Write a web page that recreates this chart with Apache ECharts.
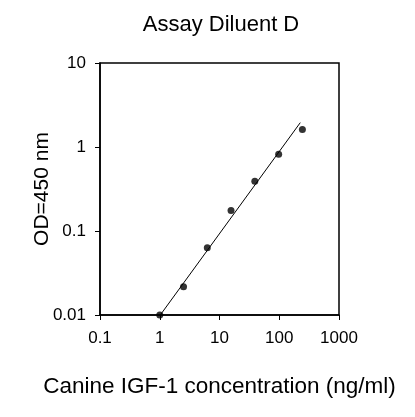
<!DOCTYPE html>
<html>
<head>
<meta charset="utf-8">
<script src="https://cdn.jsdelivr.net/npm/echarts@6/dist/echarts.min.js"></script>
<style>
  html, body { margin: 0; padding: 0; background: #fff; }
  #chart { width: 415px; height: 417px; }
</style>
</head>
<body>
<div id="chart"></div>
<script>
// standards (ng/ml vs OD450)
var concX = [1, 2.5, 6.25, 15.6, 39, 97.7, 244];
var odY = [0.01, 0.0217, 0.063, 0.175, 0.39, 0.82, 1.62];
// fitted line end points
var fitX = [1, 225];
var fitY = [0.0098, 1.95];

var chart = echarts.init(document.getElementById('chart'));
var font = '"Liberation Sans", Arial, sans-serif';

var option = {
  animation: false,
  backgroundColor: '#fff',
  title: {
    text: 'Assay Diluent D',
    left: 216,
    textAlign: 'center',
    top: 9,
    textStyle: { fontFamily: font, fontSize: 22, fontWeight: 'normal', color: '#000' }
  },
  grid: {
    left: 100, right: 76, top: 63, bottom: 102,
    show: true, borderColor: '#000', borderWidth: 1.5, backgroundColor: 'transparent'
  },
  xAxis: {
    type: 'log', logBase: 10, min: 0.1, max: 1000,
    name: 'Canine IGF-1 concentration (ng/ml)',
    nameLocation: 'middle', nameGap: 60,
    nameMoveOverlap: false,
    nameTextStyle: { fontFamily: font, fontSize: 22.5, color: '#000' },
    axisLine: { lineStyle: { color: '#000', width: 1.5 } },
    axisTick: { length: 5, lineStyle: { color: '#000' } },
    splitLine: { show: false },
    axisLabel: { fontFamily: font, fontSize: 17, color: '#000', margin: 15,
      formatter: function (v) { return String(+v.toPrecision(6)); } }
  },
  yAxis: {
    type: 'log', logBase: 10, min: 0.01, max: 10,
    name: 'OD=450 nm',
    nameLocation: 'middle', nameGap: 47,
    nameMoveOverlap: false,
    nameTextStyle: { fontFamily: font, fontSize: 21, color: '#000' },
    axisLine: { lineStyle: { color: '#000', width: 1.5 } },
    axisTick: { length: 5, lineStyle: { color: '#000' } },
    splitLine: { show: false },
    axisLabel: { fontFamily: font, fontSize: 17, color: '#000', margin: 14,
      formatter: function (v) { return String(+v.toPrecision(6)); } }
  },
  series: [
    {
      type: 'line',
      data: fitX.map(function (x, i) { return [x, fitY[i]]; }),
      symbol: 'none',
      lineStyle: { color: '#000', width: 1 },
      z: 1
    },
    {
      type: 'scatter',
      data: concX.map(function (x, i) { return [x, odY[i]]; }),
      symbol: 'circle',
      symbolSize: 7,
      itemStyle: { color: '#000' },
      z: 2
    }
  ]
};
chart.setOption(option);
</script>
</body>
</html>
